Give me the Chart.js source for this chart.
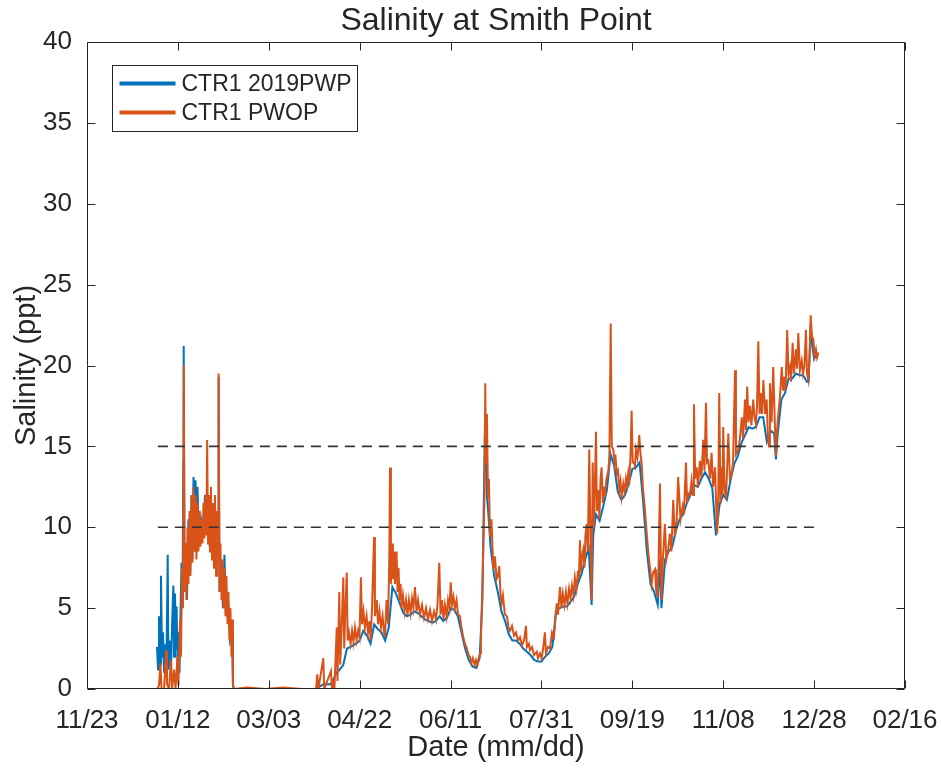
<!DOCTYPE html>
<html>
<head>
<meta charset="utf-8">
<script src="https://cdn.jsdelivr.net/npm/chart.js@4.4.1/dist/chart.umd.min.js"></script>
<style>
html,body{margin:0;padding:0;background:#fff;}
#wrap{width:941px;height:768px;position:relative;}
</style>
</head>
<body>
<div id="wrap"><canvas id="c"></canvas></div>
<script>
// ---- text ----
const chartTitle = 'Salinity at Smith Point';
const xAxisTitle = 'Date (mm/dd)';
const yAxisTitle = 'Salinity (ppt)';
const seriesNames = ['CTR1 2019PWP', 'CTR1 PWOP'];

// ---- axes (x = day of year 2019, Jan 1 = 1) ----
const xTickDays = [-38, 12, 62, 112, 162, 212, 262, 312, 362, 412];
const xTickLabels = ['11/23', '01/12', '03/03', '04/22', '06/11', '07/31', '09/19', '11/08', '12/28', '02/16'];
const yTickValues = [0, 5, 10, 15, 20, 25, 30, 35, 40];

// ---- reference (dashed) levels ----
const refLevels = [10, 15];
const refDays = [1, 365];

// ---- CTR1 PWOP (orange) ----
const pwopDays = [0.5,1.6,2.4,3.0,4.4,5.5,6.0,7.1,8.2,8.8,9.9,10.7,11.8,12.3,13.2,13.7,14.3,14.8,15.2,15.7,16.2,16.7,17.3,17.8,18.4,18.9,19.5,20.0,20.6,21.1,21.7,22.2,22.8,23.3,23.9,24.4,25.0,25.5,26.1,26.6,27.2,27.7,28.1,28.6,29.1,29.7,30.2,30.8,31.3,31.9,32.4,33.0,33.5,34.1,34.4,34.9,35.4,36.0,36.5,37.1,37.6,38.2,38.7,39.3,39.8,40.4,40.9,41.5,41.9,42.3,42.9,
50,60,70,80,88.0,
88.7,89.3,92.0,92.5,96.2,96.8,97.3,98.1,99.4,99.8,100.8,101.3,102.0,103.0,103.5,104.2,104.9,105.4,106.1,107.0,107.8,108.6,109.4,110.3,111.1,111.9,112.7,113.3,114.1,114.9,115.8,116.6,117.4,118.0,118.8,119.9,120.4,121.4,122.1,122.9,123.7,124.6,125.4,125.9,126.8,127.6,128.3,128.7,129.2,129.8,130.3,130.9,131.4,132.3,132.8,133.4,133.9,134.5,135.0,135.8,136.7,137.5,138.3,139.1,140.0,140.8,141.6,142.4,143.3,144.1,145.2,146.3,147.4,148.5,149.6,150.7,151.8,152.9,154.0,154.8,155.8,156.5,157.3,158.1,158.9,159.8,160.6,161.4,162.1,162.8,163.6,164.4,165.3,166.1,167.2,168.0,169.0,169.9,171.0,171.9,172.7,173.5,174.3,175.2,176.0,176.8,177.6,178.2,178.7,179.5,180.1,180.7,181.1,181.5,182.0,182.6,183.1,183.7,184.5,185.5,186.4,187.3,188.1,188.8,189.5,190.1,190.8,191.9,193.0,193.9,194.7,195.8,196.9,198.0,199.1,200.2,201.3,202.4,203.5,204.0,205.1,205.7,206.8,207.9,209.4,210.1,211.2,212.1,212.8,213.9,214.5,215.6,216.7,217.8,218.9,220.4,221.1,222.2,223.0,223.8,224.7,225.5,226.3,227.2,228.0,228.8,229.6,230.4,231.3,232.1,232.6,233.2,233.7,234.3,235.0,235.7,236.2,236.9,237.5,238.3,239.0,239.6,240.2,240.8,241.4,242.0,242.5,243.3,243.9,244.5,245.1,245.8,246.4,246.9,247.8,248.8,249.4,250.1,250.7,251.5,252.2,252.7,253.4,254.1,254.9,255.5,256.1,257.0,257.7,258.5,259.1,259.8,260.4,261.0,261.6,262.2,262.9,263.4,264.0,264.8,265.4,265.8,266.5,267.1,267.8,268.9,269.8,270.8,271.7,272.6,273.4,274.5,275.0,275.7,276.4,277.2,277.8,278.1,278.8,279.9,280.7,281.7,282.7,283.5,284.5,285.4,286.4,287.2,288.5,289.7,290.4,291.5,292.1,292.8,293.7,294.6,295.4,295.9,296.6,297.4,298.1,299.2,300.0,301.0,301.7,302.5,303.1,303.8,304.7,305.6,306.4,307.5,308.2,308.7,309.3,309.8,310.5,311.1,311.6,312.0,312.7,313.5,314.1,314.8,315.7,316.6,317.4,318.5,319.0,320.3,321.2,322.2,322.9,324.0,324.5,325.2,325.9,326.7,327.5,328.5,329.2,330.0,330.6,331.3,332.0,332.6,333.3,334.1,335.0,335.9,336.6,337.2,337.7,338.6,339.5,340.5,341.0,341.6,342.3,343.2,344.2,344.9,345.4,346.3,347.2,347.9,348.7,349.3,350.2,350.9,352.0,352.6,353.3,354.2,355.2,355.9,356.7,357.5,358.1,358.8,359.5,360.1,360.8,361.6,362.2,363.0,363.6,364.3];
const pwopVals = [0,0.2,1.6,0,0,2.4,0.3,0,1.8,0,1.2,0,2.0,0.2,4.3,2.0,7.5,5.0,20.0,6.0,9.0,5.5,10.0,6.5,11.0,7.0,12.0,7.8,12.5,8.5,12.0,8.0,11.5,8.5,11.0,8.8,10.5,9.0,11.5,9.3,12.0,9.5,15.4,9.0,12.0,8.5,12.5,8.0,11.5,7.5,12.0,7.0,11.0,8.0,19.5,6.0,9.0,5.5,8.0,5.0,7.5,4.5,7.0,4.0,6.0,3.0,5.0,2.0,4.3,0.3,0,
0.1,0,0.1,0,0,
0.9,0,1.9,0,1.1,0,0.6,0,3.8,0.5,6.0,1.5,3.5,6.9,2.5,5.0,7.2,3.0,3.5,2.8,3.6,2.9,3.8,3.0,3.6,3.2,6.9,4.0,4.8,3.8,4.5,3.5,4.2,3.0,5.0,9.4,4.5,5.5,4.0,4.8,3.8,4.5,3.5,3.2,5.5,4.0,8.0,13.7,6.5,9.0,6.8,8.5,6.5,8.5,6.0,7.5,5.5,6.5,5.0,5.8,4.8,5.5,4.6,5.5,4.7,5.6,5.0,6.3,4.8,5.5,4.6,5.2,4.4,5.0,4.3,4.9,4.2,4.8,4.3,5.2,7.8,4.6,5.5,4.3,5.2,4.5,5.5,5.0,6.6,5.2,5.7,5.0,5.5,4.6,4.5,3.8,3.2,2.8,2.5,2.1,2.0,1.6,1.9,1.5,1.8,1.5,2.0,2.2,3.0,6.3,9.0,12.0,18.9,14.0,17.0,11.9,13.0,9.4,10.5,7.4,8.2,6.8,7.0,7.6,5.8,5.3,5.8,4.6,4.5,3.8,3.6,3.9,3.3,3.5,3.0,3.2,2.7,3.0,3.9,2.6,2.8,2.4,2.6,2.1,2.3,1.9,2.2,1.9,2.4,3.5,2.2,2.6,2.5,3.5,3.2,5.3,4.6,6.3,5.0,5.9,5.2,6.0,5.3,6.2,5.6,6.4,5.8,6.9,6.2,7.3,6.8,9.2,7.2,8.2,8.6,7.5,9.5,10.2,8.5,14.8,9.0,5.5,14.0,10.0,12.5,15.9,11.0,12.3,10.5,13.0,13.7,11.5,12.5,11.9,13.0,13.5,14.5,22.6,15.0,14.8,14.0,14.5,13.3,13.5,12.3,12.8,11.9,12.7,12.2,13.0,12.6,13.4,13.0,14.5,17.2,14.0,14.0,13.8,14.8,14.3,15.0,15.7,14.5,14.0,12.5,11.1,9.8,8.4,7.5,6.5,7.2,7.4,6.2,5.7,7.5,12.7,7.0,5.5,8.0,10.2,8.0,8.6,9.6,8.5,11.7,9.5,10.4,13.1,10.5,11.3,10.8,14.0,11.5,12.1,12.0,12.9,12.0,17.6,13.0,13.7,12.5,14.1,13.0,15.4,13.5,17.7,14.0,14.1,13.0,14.6,12.5,13.7,11.0,9.6,12.0,18.3,11.5,13.7,12.0,16.2,12.5,11.7,13.5,15.8,13.0,13.3,14.0,19.7,14.5,14.8,15.5,16.8,15.5,17.9,16.0,18.7,16.5,17.5,16.3,17.9,16.8,16.4,17.5,21.5,17.0,18.3,17.0,19.1,17.0,17.9,15.5,15.0,18.9,16.5,19.9,16.0,14.4,16.0,17.0,18.0,19.9,18.5,19.3,18.5,22.2,19.5,19.9,19.0,21.4,19.5,21.0,19.8,22.0,19.7,20.3,19.5,20.0,22.2,19.5,19.1,20.5,23.1,21.8,21.6,20.6,21.0,20.5,20.8];

// ---- CTR1 2019PWP (blue) ----
const pwpDays = [0.5,1.1,1.6,2.4,2.7,3.3,3.8,4.4,5.2,5.7,6.4,6.8,7.7,8.2,8.8,9.5,9.9,10.4,11.0,11.3,11.8,12.3,12.9,13.4,14.0,14.5,15.0,15.2,15.7,16.5,17.0,17.8,18.7,19.5,20.0,20.6,21.1,21.7,22.2,22.8,23.6,24.7,25.8,26.9,27.7,28.6,29.7,30.8,31.9,33.0,34.1,34.4,34.9,35.7,36.8,37.6,38.5,39.6,40.7,41.8,42.3,42.9,
55,70,88,92,96,99.4,101,103,105,107,110,112,114,116,118,120,122,124,126,128,130,132,134,136,138,140,142,144,146,148,150,152,154,156,158,160,162,164,166,168,170,172,174,176,178,179.5,181,182,183,184,186,188,190,192,194,196,198,200,202,204,206,208,210,212,214,216,218,220,222,224,226,228,230,232,234,236,238,239.6,240.5,242,244,246,248,250,252,254,256,258,260,262,264,266,268,270,272,274,276,277.2,278,280,282,284,286,288,290,292,294,296,298,300,302,304,306,308,310,312,314,316,318,320,322,324,326,328,330,332,334,336,338,340,341,342,344,346,348,350,352,354,356,358,359,360.1,361,362,363,364.3];
const pwpVals = [2.6,1.2,4.5,1.5,7.0,2.0,3.5,1.0,2.8,1.5,8.3,1.2,3.0,1.0,4.0,6.4,2.0,5.9,2.5,5.1,1.5,3.5,1.0,4.5,7.8,5.0,14.0,21.2,6.5,9.0,5.5,10.5,7.0,12.0,8.0,13.1,8.5,12.9,8.5,12.5,9.0,10.5,9.5,12.0,9.5,10.5,8.5,11.5,7.5,10.0,8.0,19.3,6.0,8.0,5.0,8.3,4.5,5.5,3.0,3.5,0.2,0,
0,0,0,0.3,0.3,1.0,1.2,1.5,2.5,2.6,2.8,3.0,3.6,3.3,2.8,4.0,3.7,3.5,3.0,3.8,6.3,5.9,5.3,4.7,4.5,4.6,4.8,4.7,4.5,4.3,4.2,4.1,4.2,4.5,4.2,4.4,5.0,4.9,4.5,3.5,2.5,1.8,1.4,1.3,1.9,5.5,17.0,12.0,10.5,8.8,7.0,6.0,4.8,4.2,3.4,3.0,3.0,2.8,2.5,2.3,2.1,1.8,1.7,1.7,2.0,2.2,2.6,4.8,5.0,5.1,5.1,5.4,5.7,6.5,7.1,8.0,8.7,5.2,9.5,10.8,10.4,11.3,12.3,14.5,13.8,12.2,11.7,12.0,12.7,13.6,13.7,14.0,11.5,8.5,6.5,6.0,5.2,8.0,5.0,8.0,8.5,8.8,9.8,10.5,10.8,11.5,12.0,12.6,12.5,13.0,13.4,13.0,12.4,9.5,11.4,12.0,11.7,12.9,13.9,14.4,15.2,15.7,16.2,16.1,16.2,16.8,16.8,15.3,16.0,15.8,14.2,15.8,17.9,18.3,19.2,19.2,19.5,19.4,19.4,19.0,19.0,22.5,21.2,20.4,20.6,20.6];

// ---- colours ----
const colPWP = '#0072BD';
const colPWOP = '#D95319';
const axisCol = '#262626';
const fontFam = '"Liberation Sans", Arial, Helvetica, sans-serif';

function toPoints(days, vals) { return days.map((d, i) => ({x: d, y: vals[i]})); }

const datasets = [
  {label: seriesNames[0], data: toPoints(pwpDays, pwpVals), borderColor: colPWP, borderWidth: 2, pointRadius: 0, order: 2, tension: 0},
  {label: seriesNames[1], data: toPoints(pwopDays, pwopVals), borderColor: colPWOP, borderWidth: 2, pointRadius: 0, order: 1, tension: 0}
];
refLevels.forEach(lv => {
  datasets.push({label: 'ref' + lv, data: refDays.map(d => ({x: d, y: lv})), borderColor: '#333333', borderWidth: 1.6, borderDash: [10, 7], pointRadius: 0, order: 0});
});

const framePlugin = {
  id: 'frameTicks',
  afterDraw(chart) {
    const ctx = chart.ctx, a = chart.chartArea, xs = chart.scales.x, ys = chart.scales.y;
    const L = Math.round(a.left) + 0.5, R = Math.round(a.right) - 0.5, T = Math.round(a.top) + 0.5, B = Math.round(a.bottom) - 0.5;
    const tl = 8;
    ctx.save();
    ctx.strokeStyle = axisCol; ctx.lineWidth = 1;
    ctx.beginPath();
    ctx.rect(L, T, R - L, B - T);
    xs.ticks.forEach(t => {
      const px = Math.round(xs.getPixelForValue(t.value)) + 0.5;
      ctx.moveTo(px, B); ctx.lineTo(px, B - tl);
      ctx.moveTo(px, T); ctx.lineTo(px, T + tl);
    });
    ys.ticks.forEach(t => {
      const py = Math.round(ys.getPixelForValue(t.value)) + 0.5;
      ctx.moveTo(L, py); ctx.lineTo(L + tl, py);
      ctx.moveTo(R, py); ctx.lineTo(R - tl, py);
    });
    ctx.stroke();

    // legend (box inside the axes, top-left)
    const x0 = Math.round(a.left) + 25.5, y0 = Math.round(a.top) + 23.5, w = 245, h = 66;
    ctx.fillStyle = '#ffffff';
    ctx.fillRect(x0, y0, w, h);
    ctx.strokeStyle = axisCol; ctx.lineWidth = 1;
    ctx.strokeRect(x0, y0, w, h);
    [0, 1].forEach((di, r) => {
      const ds = chart.data.datasets[di];
      const yy = y0 + 18 + r * 29;
      ctx.strokeStyle = ds.borderColor; ctx.lineWidth = 4;
      ctx.beginPath(); ctx.moveTo(x0 + 7, yy); ctx.lineTo(x0 + 63, yy); ctx.stroke();
      ctx.fillStyle = axisCol;
      ctx.font = '23px ' + fontFam;
      ctx.textBaseline = 'middle'; ctx.textAlign = 'left';
      ctx.fillText(ds.label, x0 + 69, yy + 1);
    });
    ctx.restore();
  }
};

new Chart(document.getElementById('c'), {
  type: 'line',
  data: {datasets},
  options: {
    responsive: true,
    maintainAspectRatio: false,
    animation: false,
    layout: {padding: {left: 0, right: 36, top: 0, bottom: 0}},
    plugins: {
      legend: {display: false},
      tooltip: {enabled: false},
      title: {display: true, text: chartTitle, fullSize: false, color: axisCol,
              font: {family: fontFam, size: 32, weight: 'normal'}, padding: {top: 2, bottom: 1.6}}
    },
    scales: {
      x: {
        type: 'linear', min: xTickDays[0], max: xTickDays[xTickDays.length - 1],
        grid: {display: false}, border: {display: false},
        afterBuildTicks: s => { s.ticks = xTickDays.map(v => ({value: v})); },
        afterFit: s => { s.height = 79; s.paddingLeft = 0; s.paddingRight = 0; },
        ticks: {color: axisCol, font: {family: fontFam, size: 26}, padding: 8, maxRotation: 0, autoSkip: false,
                callback: (v) => { const i = xTickDays.indexOf(v); return i >= 0 ? xTickLabels[i] : ''; }},
        title: {display: true, text: xAxisTitle, color: axisCol, font: {family: fontFam, size: 29}, padding: {top: 0, bottom: 3}}
      },
      y: {
        type: 'linear', min: 0, max: 40,
        grid: {display: false}, border: {display: false},
        afterBuildTicks: s => { s.ticks = yTickValues.map(v => ({value: v})); },
        afterFit: s => { s.width = 87; s.paddingTop = 0; s.paddingBottom = 0; },
        ticks: {color: axisCol, font: {family: fontFam, size: 26}, padding: 7, autoSkip: false},
        title: {display: true, text: yAxisTitle, color: axisCol, font: {family: fontFam, size: 29}, padding: {top: 10, bottom: 0}}
      }
    }
  },
  plugins: [framePlugin]
});
</script>
</body>
</html>
